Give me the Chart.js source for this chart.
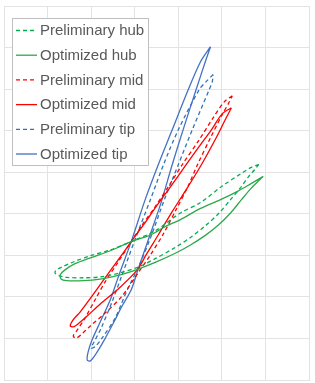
<!DOCTYPE html>
<html>
<head>
<meta charset="utf-8">
<script src="https://cdn.jsdelivr.net/npm/chart.js@4"></script>
<style>
  html, body { margin: 0; padding: 0; background: #ffffff; }
  #wrap { width: 315px; height: 383px; }
</style>
</head>
<body>
<div id="wrap"><canvas id="loops" width="315" height="383"></canvas></div>
<script>
// series names, in legend order
const seriesNames = ["Preliminary hub", "Optimized hub", "Preliminary mid", "Optimized mid", "Preliminary tip", "Optimized tip"];

// axis ticks (grid only, labels hidden in the original)
const xTicks = [0, 1, 2, 3, 4, 5, 6, 7];
const yTicks = [0, 1, 2, 3, 4, 5, 6, 7, 8, 9];

// closed loops (first point repeated at the end)
const prelimHubX = [5.85, 5.66, 5.43, 5.01, 4.51, 4.05, 3.47, 2.92, 2.44, 1.98, 1.59, 1.33, 1.20, 1.17, 1.24, 1.43, 1.82, 2.21, 2.67, 3.08, 3.47, 3.93, 4.28, 4.62, 4.92, 5.20, 5.43, 5.61, 5.75, 5.85];
const prelimHubY = [5.19, 5.11, 4.96, 4.67, 4.27, 4.02, 3.59, 3.33, 3.13, 2.99, 2.84, 2.72, 2.65, 2.58, 2.52, 2.47, 2.46, 2.48, 2.58, 2.72, 2.92, 3.19, 3.43, 3.71, 4.00, 4.34, 4.63, 4.89, 5.06, 5.19];

const optHubX = [5.95, 5.66, 5.36, 4.97, 4.51, 4.05, 3.70, 3.36, 2.92, 2.44, 1.98, 1.63, 1.40, 1.29, 1.31, 1.43, 1.82, 2.21, 2.67, 3.08, 3.47, 3.93, 4.28, 4.62, 4.92, 5.20, 5.45, 5.66, 5.82, 5.95];
const optHubY = [4.90, 4.72, 4.54, 4.34, 4.13, 3.86, 3.69, 3.49, 3.33, 3.11, 2.94, 2.80, 2.65, 2.53, 2.43, 2.39, 2.39, 2.43, 2.53, 2.67, 2.83, 3.05, 3.25, 3.48, 3.73, 4.02, 4.34, 4.60, 4.77, 4.90];

const prelimMidX = [5.24, 5.06, 4.80, 4.48, 4.09, 3.77, 3.45, 3.17, 2.92, 2.62, 2.32, 2.09, 1.86, 1.68, 1.59, 1.66, 1.79, 1.98, 2.32, 2.71, 3.06, 3.36, 3.66, 3.95, 4.21, 4.44, 4.74, 5.01, 5.15, 5.24];
const prelimMidY = [6.84, 6.70, 6.31, 5.78, 5.18, 4.65, 4.14, 3.73, 3.33, 2.84, 2.36, 1.93, 1.49, 1.20, 1.06, 1.01, 1.11, 1.30, 1.61, 2.02, 2.55, 3.01, 3.52, 4.10, 4.63, 5.18, 5.83, 6.39, 6.65, 6.84];

const optMidX = [5.22, 5.01, 4.76, 4.46, 4.18, 3.82, 3.47, 3.20, 2.92, 2.62, 2.32, 2.02, 1.75, 1.59, 1.52, 1.59, 1.70, 1.89, 2.21, 2.60, 3.06, 3.26, 3.54, 3.86, 4.21, 4.53, 4.87, 5.10, 5.22];
const optMidY = [6.55, 6.41, 6.02, 5.59, 5.18, 4.65, 4.14, 3.73, 3.33, 2.89, 2.46, 2.02, 1.64, 1.45, 1.30, 1.28, 1.35, 1.52, 1.83, 2.17, 2.65, 3.01, 3.49, 4.05, 4.63, 5.18, 5.83, 6.31, 6.55];

const prelimTipX = [4.80, 4.64, 4.48, 4.00, 3.66, 3.36, 2.99, 2.71, 2.48, 2.23, 2.07, 2.00, 2.09, 2.25, 2.55, 2.83, 3.10, 3.38, 3.68, 4.00, 4.32, 4.71, 4.78, 4.80];
const prelimTipY = [7.35, 7.18, 6.99, 6.02, 5.18, 4.34, 3.33, 2.53, 1.88, 1.25, 0.92, 0.77, 0.80, 1.01, 1.49, 2.17, 2.75, 3.47, 4.34, 5.18, 6.02, 6.99, 7.18, 7.35];

const optTipX = [4.74, 4.51, 4.23, 3.86, 3.54, 3.24, 2.92, 2.64, 2.44, 2.21, 2.02, 1.93, 1.91, 1.98, 2.11, 2.30, 2.51, 2.71, 2.92, 3.08, 3.31, 3.59, 3.86, 4.11, 4.41, 4.62, 4.74];
const optTipY = [8.02, 7.66, 6.99, 6.02, 5.18, 4.34, 3.33, 2.53, 1.93, 1.40, 0.96, 0.67, 0.48, 0.46, 0.63, 0.96, 1.37, 1.78, 2.17, 2.67, 3.37, 4.22, 5.18, 6.02, 6.99, 7.66, 8.02];

const seriesColors = ["#00b050", "#2ea84a", "#ff0000", "#ff0000", "#2e75b6", "#4472c4"];
const seriesDashed = [true, false, true, false, true, false];

function toPoints(xs, ys) {
  return xs.map(function (x, i) { return { x: x, y: ys[i] }; });
}

const loopData = [
  toPoints(prelimHubX, prelimHubY),
  toPoints(optHubX, optHubY),
  toPoints(prelimMidX, prelimMidY),
  toPoints(optMidX, optMidY),
  toPoints(prelimTipX, prelimTipY),
  toPoints(optTipX, optTipY),
];

// legend drawn inside the plot, top left, with a thin frame
const boxLegend = {
  id: "boxLegend",
  afterDraw: function (chart) {
    const ctx = chart.ctx;
    const left = 12.5, top = 18.5, w = 136, h = 147;
    ctx.save();
    ctx.fillStyle = "#ffffff";
    ctx.fillRect(left, top, w, h);
    ctx.strokeStyle = "#bfbfbf";
    ctx.lineWidth = 1;
    ctx.strokeRect(left, top, w, h);
    ctx.font = "15px 'Liberation Sans', Arial, sans-serif";
    ctx.textBaseline = "middle";
    chart.data.datasets.forEach(function (ds, i) {
      const y = 30.5 + i * 24.7;
      ctx.beginPath();
      ctx.setLineDash(ds.borderDash || []);
      ctx.strokeStyle = ds.borderColor;
      ctx.lineWidth = 1.3;
      ctx.moveTo(16, y);
      ctx.lineTo(37, y);
      ctx.stroke();
      ctx.setLineDash([]);
      ctx.fillStyle = "#595959";
      ctx.fillText(ds.label, 40, y + 0.5);
    });
    ctx.restore();
  },
};

const chart = new Chart(document.getElementById("loops"), {
  type: "scatter",
  data: {
    datasets: seriesNames.map(function (name, i) {
      return {
        label: name,
        data: loopData[i],
        showLine: true,
        borderColor: seriesColors[i],
        backgroundColor: seriesColors[i],
        borderWidth: 1.3,
        borderDash: seriesDashed[i] ? [4, 3] : [],
        pointRadius: 0,
        tension: 0.3,
        fill: false,
      };
    }),
  },
  options: {
    responsive: false,
    animation: false,
    devicePixelRatio: 1,
    layout: { padding: { left: 4, right: 6, top: 6, bottom: 3 } },
    plugins: {
      legend: { display: false },
      tooltip: { enabled: false },
    },
    scales: {
      x: {
        type: "linear",
        min: xTicks[0],
        max: xTicks[xTicks.length - 1],
        ticks: { display: false, stepSize: 1 },
        grid: { color: "#e3e3e3", lineWidth: 1, drawTicks: false },
        border: { display: true, color: "#e3e3e3" },
      },
      y: {
        type: "linear",
        min: yTicks[0],
        max: yTicks[yTicks.length - 1],
        ticks: { display: false, stepSize: 1 },
        grid: { color: "#e3e3e3", lineWidth: 1, drawTicks: false },
        border: { display: true, color: "#e3e3e3" },
      },
    },
  },
  plugins: [boxLegend],
});
</script>
</body>
</html>
